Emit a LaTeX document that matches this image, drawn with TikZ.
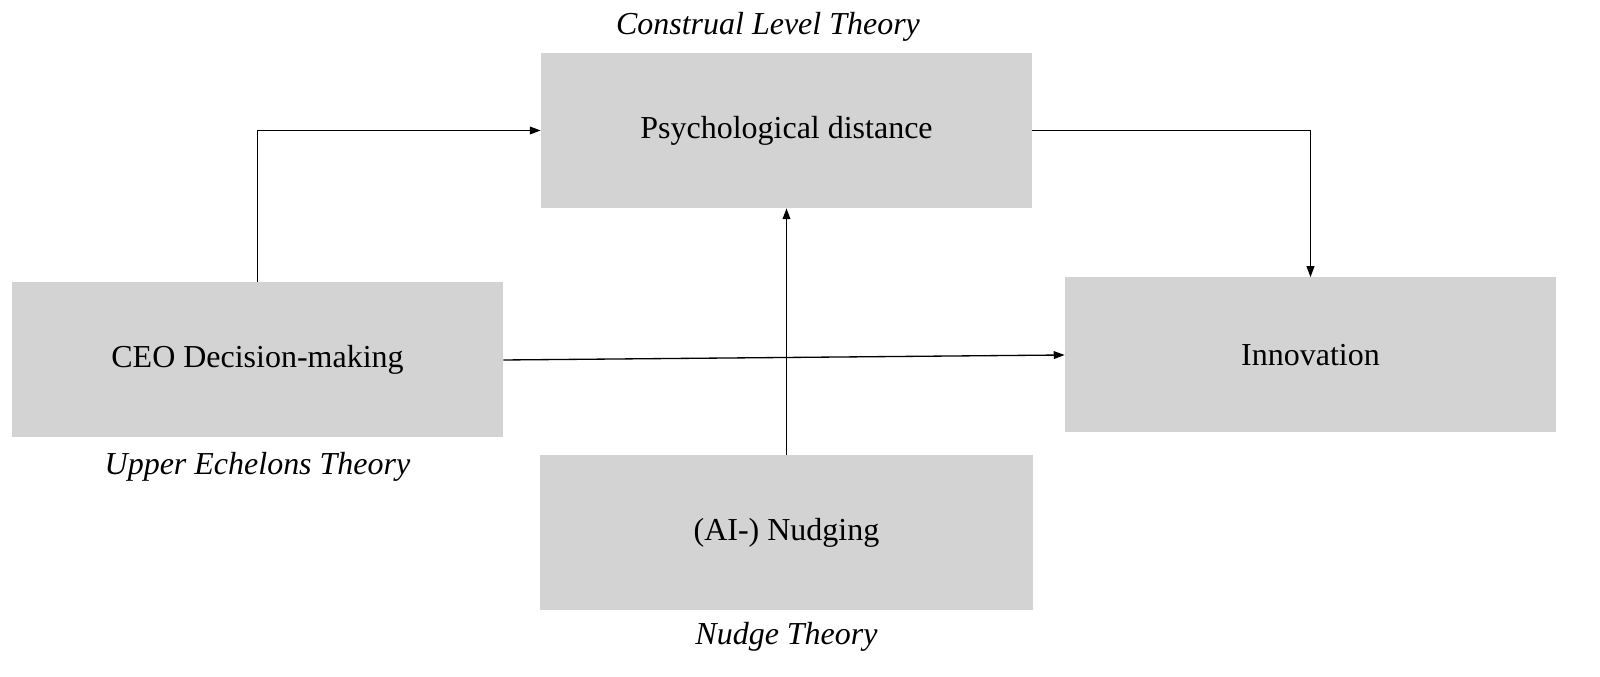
\documentclass[tikz,border=0pt]{standalone}
\usepackage{fontspec}
\setmainfont{Liberation Serif}
\usepackage{tikz}
\usetikzlibrary{arrows.meta, positioning}
\definecolor{boxgray}{RGB}{211,211,211}

\begin{document}
\begin{tikzpicture}[on grid,auto,font=\fontsize{18.2}{22}\selectfont]
    \tikzstyle{block}=[shape=rectangle,fill=boxgray,minimum width=9.82cm,minimum height=3.1cm,inner sep=0pt]
    \tikzstyle{theory}=[shape=rectangle,font=\fontsize{18.2}{22}\selectfont\itshape,inner sep=0pt]
    \tikzstyle{link}=[-{Triangle[length=6.2pt,width=4.4pt]},line width=0.75pt]

    \useasboundingbox (0,0) rectangle (32,13.54);

    \node[block] (psych) at (15.73,10.93) {Psychological distance};
    \node[block, below left=4.59cm and 10.58cm of psych] (ceo) {CEO Decision-making};
    \node[block, right=21.06cm of ceo, yshift=0.1cm] (innov) {Innovation};
    \node[block, below=8.04cm of psych, minimum width=9.86cm] (nudge) {(AI-) Nudging};

    \node[theory] (clt) at (15.36,13.0) {Construal Level Theory};
    \node[theory, below=2.14cm of ceo] (uet) {Upper Echelons Theory};
    \node[theory, below=2.09cm of nudge] (nt) {Nudge Theory};

    \draw[link] (ceo.north) |- (psych.west);
    \draw[link] (psych.east) -| (innov.north);
    \draw[link] (ceo.east) -- (innov.west);
    \draw[link] (nudge.north) -- (psych.south);

\end{tikzpicture}
\end{document}
